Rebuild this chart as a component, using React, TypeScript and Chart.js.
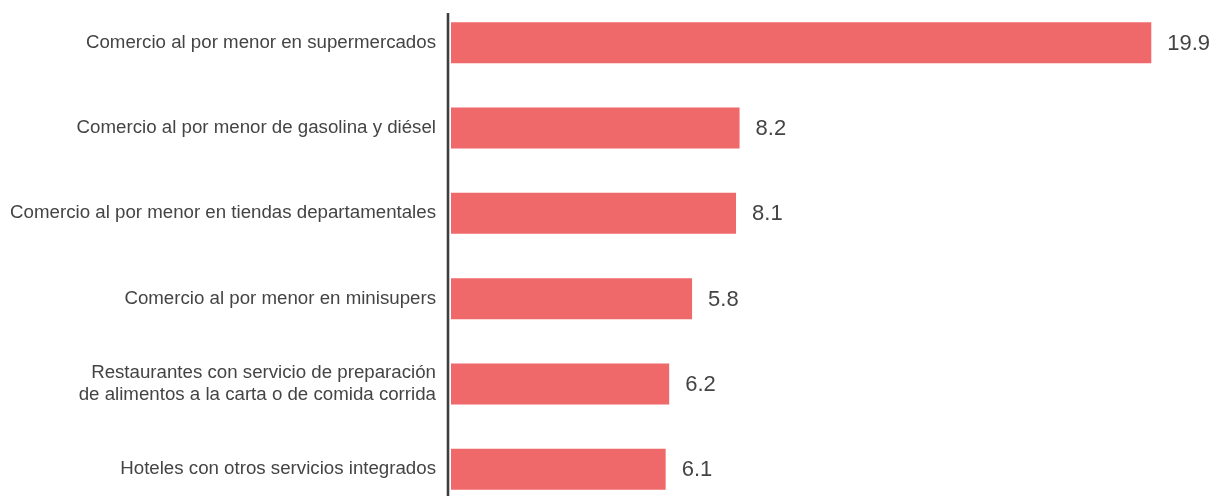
import React, { useEffect, useRef } from "react";
import { Chart, registerables } from "chart.js";

Chart.register(...registerables);

const categories: (string | string[])[] = [
  "Comercio al por menor en supermercados",
  "Comercio al por menor de gasolina y diésel",
  "Comercio al por menor en tiendas departamentales",
  "Comercio al por menor en minisupers",
  ["Restaurantes con servicio de preparación", "de alimentos a la carta o de comida corrida"],
  "Hoteles con otros servicios integrados",
];

// bar lengths as drawn in the picture
const barValues = [19.9, 8.2, 8.1, 6.85, 6.2, 6.1];
// value labels as printed in the picture
const valueLabels = ["19.9", "8.2", "8.1", "5.8", "6.2", "6.1"];

const BAR_COLOR = "#F0696A";
const TEXT_COLOR = "#444444";
const FONT = "'Liberation Sans', Arial, Helvetica, sans-serif";

export default function App() {
  const ref = useRef<HTMLCanvasElement | null>(null);

  useEffect(() => {
    if (!ref.current) return;
    const overlay = {
      id: "overlay",
      afterDatasetsDraw(chart: any) {
        const ctx = chart.ctx;
        const area = chart.chartArea;
        ctx.save();
        // axis line
        ctx.strokeStyle = "#3f3f3f";
        ctx.lineWidth = 2.6;
        ctx.beginPath();
        ctx.moveTo(area.left - 3, 13);
        ctx.lineTo(area.left - 3, chart.height);
        ctx.stroke();
        // value labels
        const meta = chart.getDatasetMeta(0);
        ctx.fillStyle = TEXT_COLOR;
        ctx.font = `22px ${FONT}`;
        ctx.textAlign = "left";
        ctx.textBaseline = "middle";
        meta.data.forEach((bar: any, i: number) => {
          ctx.fillText(valueLabels[i], bar.x + 16, bar.y + 1);
        });
        ctx.restore();
      },
    };
    const chart = new Chart(ref.current, {
      type: "bar",
      data: {
        labels: categories as any,
        datasets: [
          {
            data: barValues,
            backgroundColor: BAR_COLOR,
            borderWidth: 0,
            barPercentage: 0.48,
            categoryPercentage: 1,
          },
        ],
      },
      options: {
        indexAxis: "y",
        animation: false,
        responsive: false,
        layout: { padding: { left: 0, right: 20, top: 0, bottom: 0 } },
        plugins: { legend: { display: false }, tooltip: { enabled: false } },
        scales: {
          x: { display: false, min: 0, max: 21 },
          y: {
            grid: { display: false, drawTicks: false },
            border: { display: false },
            ticks: {
              color: TEXT_COLOR,
              padding: 15,
              font: { family: FONT, size: 18.7, lineHeight: 1.15 },
            },
            afterFit(scale: any) {
              scale.width = 451;
              scale.paddingTop = 0;
              scale.paddingBottom = 0;
            },
          },
        },
      },
      plugins: [overlay],
    });
    return () => chart.destroy();
  }, []);

  return (
    <div
      style={{
        position: "fixed",
        left: 0,
        top: 0,
        width: 1210,
        height: 496,
        overflow: "hidden",
        background: "#ffffff",
      }}
    >
      <canvas ref={ref} width={1210} height={512} style={{ display: "block" }} />
    </div>
  );
}
